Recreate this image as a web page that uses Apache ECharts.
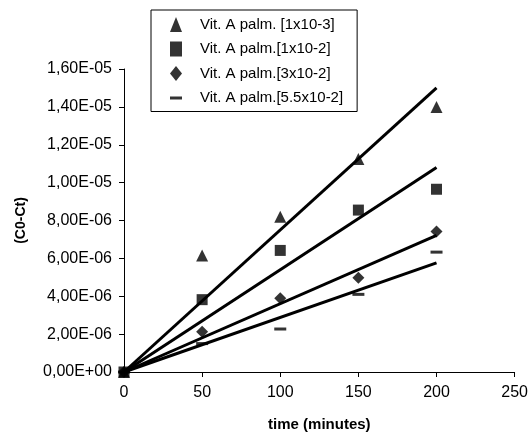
<!DOCTYPE html>
<html>
<head>
<meta charset="utf-8">
<script src="https://cdn.jsdelivr.net/npm/echarts@6/dist/echarts.min.js"></script>
<style>
  html, body { margin: 0; padding: 0; background: #fff; }
  #chart { width: 531px; height: 439px; }
</style>
</head>
<body>
<div id="chart"></div>
<script>
// Sampling times (minutes)
const times = [0, 50, 100, 150, 200];

// Measured (C0-Ct) for each vitamin A palmitate concentration
const seriesNames = [
  'Vit. A palm. [1x10-3]',
  'Vit. A palm.[1x10-2]',
  'Vit. A palm.[3x10-2]',
  'Vit. A palm.[5.5x10-2]'
];
const valsA = [0, 6.15e-6, 8.2e-6, 11.25e-6, 14.0e-6];
const valsB = [0, 3.82e-6, 6.42e-6, 8.55e-6, 9.65e-6];
const valsC = [0, 2.12e-6, 3.9e-6, 4.98e-6, 7.42e-6];
const valsD = [0, 1.5e-6, 2.27e-6, 4.1e-6, 6.33e-6];

// Linear fits through the origin: value reached at t = 200
const fitEndTime = 200;
const fitEnds = [15.0e-6, 10.8e-6, 7.22e-6, 5.76e-6];

const yTicks = { min: 0, max: 1.6e-5, interval: 2e-6 };
const xTicks = { min: 0, max: 250, interval: 50 };

function sciComma(v) {
  if (Math.abs(v) < 1e-12) return '0,00E+00';
  let exp = Math.floor(Math.log10(Math.abs(v)) + 1e-9);
  let mant = v / Math.pow(10, exp);
  if (Math.abs(mant) >= 9.995) { mant /= 10; exp += 1; }
  const sign = exp < 0 ? '-' : '+';
  const e = String(Math.abs(exp)).padStart(2, '0');
  return mant.toFixed(2).replace('.', ',') + 'E' + sign + e;
}

const symbols = [
  { symbol: 'triangle', size: 12 },
  { symbol: 'rect', size: 11 },
  { symbol: 'diamond', size: 12 },
  { symbol: 'rect', size: [12, 3] }
];
const allVals = [valsA, valsB, valsC, valsD];

const series = [];
allVals.forEach((vals, i) => {
  series.push({
    name: seriesNames[i],
    type: 'scatter',
    symbol: symbols[i].symbol,
    symbolSize: symbols[i].size,
    itemStyle: { color: '#000' },
    z: 3,
    data: times.map((t, k) => [t, vals[k]])
  });
  series.push({
    type: 'line',
    symbol: 'none',
    lineStyle: { color: '#000', width: 3 },
    z: 2,
    silent: true,
    data: [[0, 0], [fitEndTime, fitEnds[i]]]
  });
});

const font = 'Liberation Sans, Arial, sans-serif';
const chart = echarts.init(document.getElementById('chart'), null, { renderer: 'canvas' });
chart.setOption({
  animation: false,
  backgroundColor: '#fff',
  textStyle: { fontFamily: font },
  grid: { left: 124, right: 16, top: 69, bottom: 67, containLabel: false },
  legend: {
    orient: 'vertical',
    left: 151,
    top: 10,
    padding: [7, 14, 6, 19],
    itemGap: 9.5,
    itemWidth: 12,
    itemHeight: 15,
    borderColor: '#000',
    borderWidth: 1,
    backgroundColor: '#fff',
    textStyle: { fontSize: 15, color: '#000', fontFamily: font, padding: [0, 0, 0, 13] },
    data: seriesNames.map((n, i) => ({
      name: n,
      icon: i === 3 ? 'path://M0,0H12V3H0Z' : symbols[i].symbol
    }))
  },
  xAxis: {
    type: 'value',
    min: xTicks.min, max: xTicks.max, interval: xTicks.interval,
    name: 'time (minutes)',
    nameLocation: 'middle',
    nameGap: 45,
    nameTextStyle: { fontSize: 15, fontWeight: 'bold', color: '#000' },
    axisLine: { lineStyle: { color: '#000', width: 1 } },
    axisTick: { show: true, length: 5, lineStyle: { color: '#000' } },
    axisLabel: { fontSize: 16, color: '#000', margin: 13 },
    splitLine: { show: false }
  },
  yAxis: {
    type: 'value',
    min: yTicks.min, max: yTicks.max, interval: yTicks.interval,
    name: '(C0-Ct)',
    nameLocation: 'middle',
    nameGap: 96,
    nameRotate: 90,
    nameTextStyle: { fontSize: 14, fontWeight: 'bold', color: '#000' },
    axisLine: { show: true, lineStyle: { color: '#000', width: 1 } },
    axisTick: { show: true, length: 5, lineStyle: { color: '#000' } },
    axisLabel: { fontSize: 16, color: '#000', margin: 12, formatter: sciComma },
    splitLine: { show: false }
  },
  series: series
});
</script>
</body>
</html>
